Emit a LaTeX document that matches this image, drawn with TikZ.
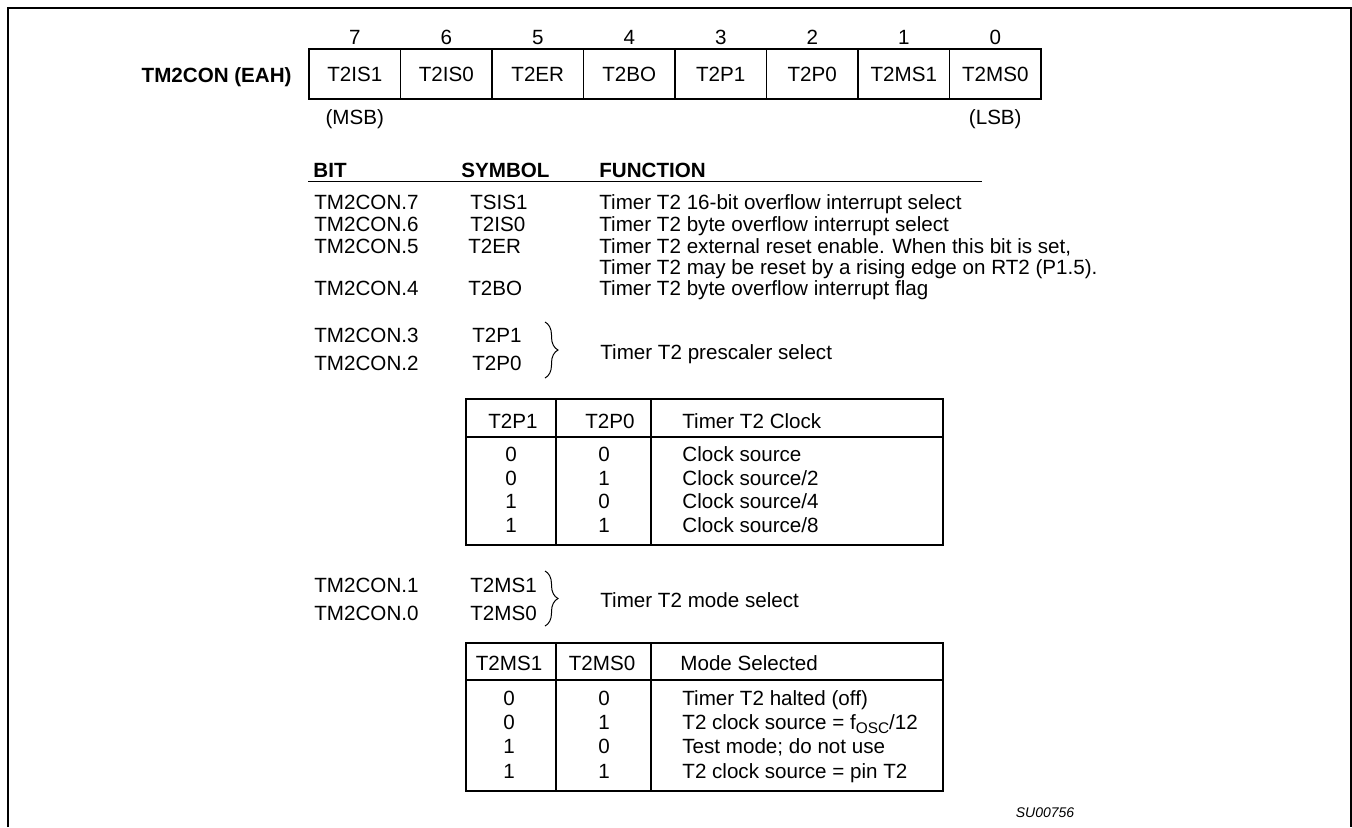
\documentclass[tikz,border=0pt]{standalone}
\usepackage{fontspec}
\setmainfont{Liberation Sans}
\usetikzlibrary{decorations.pathreplacing}

\begin{document}
\begin{tikzpicture}[x=0.5pt,y=-0.5pt,font=\fontsize{10.3pt}{12pt}\selectfont,
	txt/.style={anchor=west,inner sep=0pt,text height=7.3pt,text depth=0pt},
	mid/.style={inner sep=0pt,text height=7.3pt,text depth=0pt},
	cell/.style={draw,line width=0.6pt,minimum width=45.75pt,minimum height=25pt,inner sep=0pt,text height=7.3pt,text depth=0pt},
	tab/.style={line width=1pt},
	curly/.style={decorate,decoration={brace,amplitude=6.5pt},line width=0.5pt}]
	\useasboundingbox (0,0) rectangle (1352,827);
	%FRAME
	\draw[line width=1pt] (8,827)--(8,8)--(1351,8)--(1351,827);

	%REGISTER
	\node[txt,anchor=east,font=\fontsize{10.3pt}{12pt}\selectfont\bfseries] (regname) at (292,75) {TM2CON (EAH)};
	\node[cell] (reg7) at (354.75,74) {T2IS1};
	\node[cell] (reg6) at (446.25,74) {T2IS0};
	\node[cell] (reg5) at (537.75,74) {T2ER};
	\node[cell] (reg4) at (629.25,74) {T2BO};
	\node[cell] (reg3) at (720.75,74) {T2P1};
	\node[cell] (reg2) at (812.25,74) {T2P0};
	\node[cell] (reg1) at (903.75,74) {T2MS1};
	\node[cell] (reg0) at (995.25,74) {T2MS0};
	%
	\node[mid] (bit7) at (354.75,37) {7};
	\node[mid] (bit6) at (446.25,37) {6};
	\node[mid] (bit5) at (537.75,37) {5};
	\node[mid] (bit4) at (629.25,37) {4};
	\node[mid] (bit3) at (720.75,37) {3};
	\node[mid] (bit2) at (812.25,37) {2};
	\node[mid] (bit1) at (903.75,37) {1};
	\node[mid] (bit0) at (995.25,37) {0};
	\node[mid] (msb) at (354.75,117) {(MSB)};
	\node[mid] (lsb) at (995.25,117) {(LSB)};

	%BIT LIST
	\node[txt,font=\fontsize{10.3pt}{12pt}\selectfont\bfseries] (hdbit) at (313,170) {BIT};
	\node[txt,font=\fontsize{10.3pt}{12pt}\selectfont\bfseries] (hdsym) at (461,170) {SYMBOL};
	\node[txt,font=\fontsize{10.3pt}{12pt}\selectfont\bfseries] (hdfun) at (599,170) {FUNCTION};
	\draw[line width=0.5pt] (308,181)--(982,181);
	%
	\node[txt] (bit7n) at (314,202) {TM2CON.7};
	\node[txt] (sym7) at (470,202) {TSIS1};
	\node[txt] (fun7) at (599,202) {Timer T2 16-bit overflow interrupt select};
	\node[txt] (bit6n) at (314,224) {TM2CON.6};
	\node[txt] (sym6) at (470,224) {T2IS0};
	\node[txt] (fun6) at (599,224) {Timer T2 byte overflow interrupt select};
	\node[txt] (bit5n) at (314,246) {TM2CON.5};
	\node[txt] (sym5) at (468,246) {T2ER};
	\node[txt] (fun5) at (599,246) {Timer T2 external reset enable. When this bit is set,};
	\node[txt] (fun5b) at (599,267) {Timer T2 may be reset by a rising edge on RT2 (P1.5).};
	\node[txt] (bit4n) at (314,288) {TM2CON.4};
	\node[txt] (sym4) at (468,288) {T2BO};
	\node[txt] (fun4) at (599,288) {Timer T2 byte overflow interrupt flag};
	%
	\node[txt] (bit3n) at (314,335) {TM2CON.3};
	\node[txt] (sym3) at (472,335) {T2P1};
	\node[txt] (bit2n) at (314,363) {TM2CON.2};
	\node[txt] (sym2) at (472,363) {T2P0};
	\draw[curly] (545,322)--(545,378);
	\node[txt] (fun32) at (600,352) {Timer T2 prescaler select};

	%PRESCALER TABLE
	\draw[tab] (466,399) rectangle (943,545);
	\draw[tab] (466,437)--(943,437);
	\draw[tab] (556,399)--(556,545);
	\draw[tab] (651,399)--(651,545);
	\node[mid] (phd1) at (513,421) {T2P1};
	\node[mid] (phd0) at (610,421) {T2P0};
	\node[txt] (phdc) at (682,421) {Timer T2 Clock};
	\node[mid] at (511,454) {0}; \node[mid] at (604,454) {0}; \node[txt] (pclk0) at (682,454) {Clock source};
	\node[mid] at (511,478) {0}; \node[mid] at (604,478) {1}; \node[txt] (pclk1) at (682,478) {Clock source/2};
	\node[mid] at (511,501) {1}; \node[mid] at (604,501) {0}; \node[txt] (pclk2) at (682,501) {Clock source/4};
	\node[mid] at (511,525) {1}; \node[mid] at (604,525) {1}; \node[txt] (pclk3) at (682,525) {Clock source/8};

	%MODE SELECT
	\node[txt] (bit1n) at (314,585) {TM2CON.1};
	\node[txt] (sym1) at (470,585) {T2MS1};
	\node[txt] (bit0n) at (314,613) {TM2CON.0};
	\node[txt] (sym0) at (470,613) {T2MS0};
	\draw[curly] (545,571)--(545,626);
	\node[txt] (fun10) at (600,600) {Timer T2 mode select};

	%MODE TABLE
	\draw[tab] (466,643) rectangle (943,791);
	\draw[tab] (466,680)--(943,680);
	\draw[tab] (556,643)--(556,791);
	\draw[tab] (651,643)--(651,791);
	\node[mid] (mhd1) at (509,663) {T2MS1};
	\node[mid] (mhd0) at (602,663) {T2MS0};
	\node[txt] (mhdm) at (680,663) {Mode Selected};
	\node[mid] at (509,698) {0}; \node[mid] at (604,698) {0}; \node[txt] (mode0) at (682,698) {Timer T2 halted (off)};
	\node[mid] at (509,722) {0}; \node[mid] at (604,722) {1}; \node[txt] (mode1) at (682,722) {T2 clock source = f\raisebox{-0.4ex}{\fontsize{7.7pt}{8pt}\selectfont OSC}/12};
	\node[mid] at (509,746) {1}; \node[mid] at (604,746) {0}; \node[txt] (mode2) at (682,746) {Test mode; do not use};
	\node[mid] at (509,771) {1}; \node[mid] at (604,771) {1}; \node[txt] (mode3) at (682,771) {T2 clock source = pin T2};

	%FIGURE NUMBER
	\node[mid,font=\fontsize{7pt}{8pt}\selectfont\itshape] (fignum) at (1045,810) {SU00756};
\end{tikzpicture}
\end{document}
